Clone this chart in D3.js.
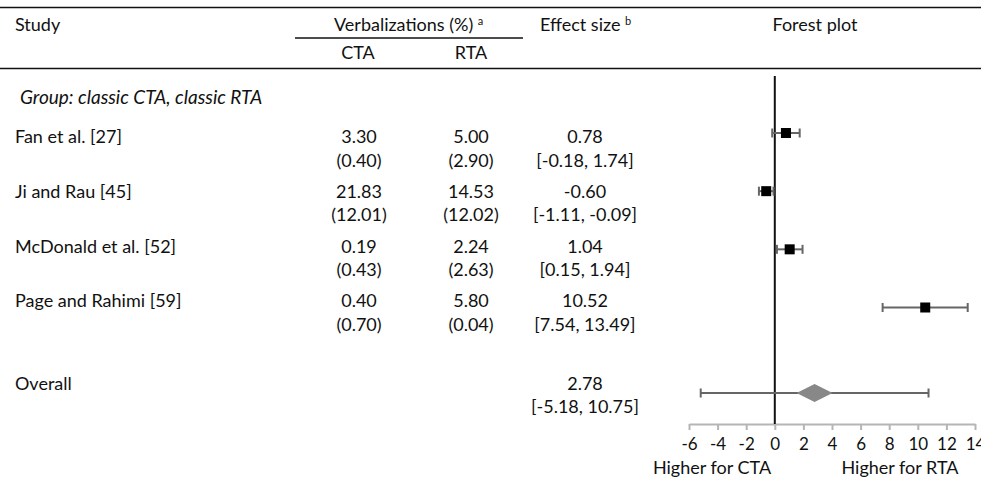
<!DOCTYPE html>
<html><head><meta charset="utf-8">
<script src="https://cdn.jsdelivr.net/npm/d3@7"></script>
<style>
html,body{margin:0;padding:0;background:#fff;}
text{font-family:Lato,"Open Sans",sans-serif;fill:#111;}
</style></head>
<body><svg id="c" width="981" height="480"></svg>
<script>
const studies = ["Fan et al. [27]", "Ji and Rau [45]", "McDonald et al. [52]", "Page and Rahimi [59]"];
const ctaMean = [3.30, 21.83, 0.19, 0.40];
const ctaSD = [0.40, 12.01, 0.43, 0.70];
const rtaMean = [5.00, 14.53, 2.24, 5.80];
const rtaSD = [2.90, 12.02, 2.63, 0.04];
const effect = [0.78, -0.60, 1.04, 10.52];
const ciLow = [-0.18, -1.11, 0.15, 7.54];
const ciHigh = [1.74, -0.09, 1.94, 13.49];
const overallEffect = 2.78, overallLow = -5.18, overallHigh = 10.75;
const xTicks = [-6, -4, -2, 0, 2, 4, 6, 8, 10, 12, 14];
const groupLabel = "Group: classic CTA, classic RTA";

const svg = d3.select("#c");
const loc = d3.formatLocale({decimal:".", thousands:",", grouping:[3], currency:["",""], minus:"-"});
const f2 = loc.format(".2f");
const fInt = loc.format("d");
const FS = 18;

// horizontal rules
svg.append("line").attr("x1",0).attr("x2",981).attr("y1",7.5).attr("y2",7.5).attr("stroke","#111").attr("stroke-width",1.5);
svg.append("line").attr("x1",295).attr("x2",523).attr("y1",38).attr("y2",38).attr("stroke","#111").attr("stroke-width",1.5);
svg.append("line").attr("x1",0).attr("x2",981).attr("y1",68.5).attr("y2",68.5).attr("stroke","#111").attr("stroke-width",1.5);

// headers
const hdr = svg.append("g").attr("font-size",FS);
hdr.append("text").attr("x",15).attr("y",25).attr("dy","0.35em").text("Study");
const v = hdr.append("text").attr("x",334).attr("y",25).attr("dy","0.35em");
v.append("tspan").text("Verbalizations (%) ");
v.append("tspan").attr("font-size",11).attr("dy",-6).text("a");
const e = hdr.append("text").attr("x",540).attr("y",25).attr("dy","0.35em");
e.append("tspan").text("Effect size ");
e.append("tspan").attr("font-size",11).attr("dy",-6).text("b");
hdr.append("text").attr("x",815).attr("y",25).attr("dy","0.35em").attr("text-anchor","middle").text("Forest plot");
hdr.append("text").attr("x",358).attr("y",53).attr("dy","0.35em").attr("text-anchor","middle").text("CTA");
hdr.append("text").attr("x",471).attr("y",53).attr("dy","0.35em").attr("text-anchor","middle").text("RTA");

svg.append("text").attr("x",20).attr("y",97).attr("dy","0.35em").attr("font-size",19).attr("font-style","italic").text(groupLabel);

// table rows
const rowY = d3.scaleLinear().domain([0,3]).range([137,301]);
const rows = svg.append("g").attr("font-size",FS);
studies.forEach((s,i)=>{
  const y = rowY(i);
  rows.append("text").attr("x",15).attr("y",y).attr("dy","0.35em").text(s);
  rows.append("text").attr("x",359).attr("y",y).attr("dy","0.35em").attr("text-anchor","middle").text(f2(ctaMean[i]));
  rows.append("text").attr("x",359).attr("y",y+23.5).attr("dy","0.35em").attr("text-anchor","middle").text("("+f2(ctaSD[i])+")");
  rows.append("text").attr("x",471).attr("y",y).attr("dy","0.35em").attr("text-anchor","middle").text(f2(rtaMean[i]));
  rows.append("text").attr("x",471).attr("y",y+23.5).attr("dy","0.35em").attr("text-anchor","middle").text("("+f2(rtaSD[i])+")");
  rows.append("text").attr("x",585).attr("y",y).attr("dy","0.35em").attr("text-anchor","middle").text(f2(effect[i]));
  rows.append("text").attr("x",585).attr("y",y+23.5).attr("dy","0.35em").attr("text-anchor","middle").text("["+f2(ciLow[i])+", "+f2(ciHigh[i])+"]");
});
rows.append("text").attr("x",15).attr("y",384).attr("dy","0.35em").text("Overall");
rows.append("text").attr("x",585).attr("y",384).attr("dy","0.35em").attr("text-anchor","middle").text(f2(overallEffect));
rows.append("text").attr("x",585).attr("y",407).attr("dy","0.35em").attr("text-anchor","middle").text("["+f2(overallLow)+", "+f2(overallHigh)+"]");

// forest plot
const x = d3.scaleLinear().domain([-6,14]).range([689,975]);
const markY = d3.scaleLinear().domain([0,3]).range([133,307.5]);
const overallY = 393;
const axisY = 424;

const axis = svg.append("g").attr("transform",`translate(0,${axisY})`)
  .call(d3.axisBottom(x).tickValues(xTicks).tickSize(6).tickSizeOuter(0).tickPadding(8).tickFormat(fInt));
axis.select(".domain").attr("stroke","#b5b5b5").attr("stroke-width",2);
axis.selectAll(".tick line").attr("stroke","#b5b5b5").attr("stroke-width",2);
axis.selectAll(".tick text").attr("font-size",17).attr("font-family","Lato,sans-serif").attr("fill","#111");

svg.append("line").attr("x1",x(0)).attr("x2",x(0)).attr("y1",76).attr("y2",axisY).attr("stroke","#111").attr("stroke-width",2);

const fp = svg.append("g");
effect.forEach((d,i)=>{
  const y = markY(i);
  fp.append("line").attr("x1",x(ciLow[i])).attr("x2",x(ciHigh[i])).attr("y1",y).attr("y2",y).attr("stroke","#666").attr("stroke-width",2);
  [ciLow[i],ciHigh[i]].forEach(c=>fp.append("line").attr("x1",x(c)).attr("x2",x(c)).attr("y1",y-4.5).attr("y2",y+4.5).attr("stroke","#666").attr("stroke-width",2));
  fp.append("rect").attr("x",x(d)-5).attr("y",y-5).attr("width",10).attr("height",10).attr("fill","#000");
});
fp.append("line").attr("x1",x(overallLow)).attr("x2",x(overallHigh)).attr("y1",overallY).attr("y2",overallY).attr("stroke","#666").attr("stroke-width",2);
[overallLow,overallHigh].forEach(c=>fp.append("line").attr("x1",x(c)).attr("x2",x(c)).attr("y1",overallY-4.5).attr("y2",overallY+4.5).attr("stroke","#666").attr("stroke-width",2));
const cx = x(overallEffect);
fp.append("path").attr("d",`M${cx-18},${overallY}L${cx},${overallY-9}L${cx+18},${overallY}L${cx},${overallY+9}Z`).attr("fill","#888");

svg.append("text").attr("x",712).attr("y",468).attr("dy","0.35em").attr("text-anchor","middle").attr("font-size",FS).text("Higher for CTA");
svg.append("text").attr("x",900).attr("y",468).attr("dy","0.35em").attr("text-anchor","middle").attr("font-size",FS).text("Higher for RTA");
</script></body></html>
